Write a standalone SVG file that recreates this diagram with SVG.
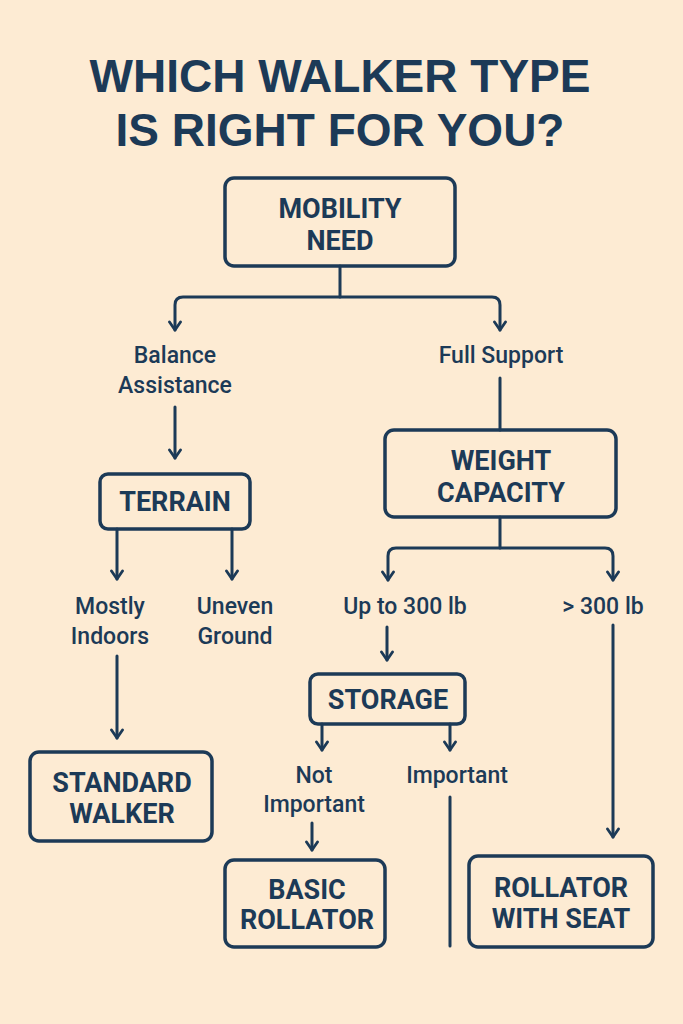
<svg xmlns="http://www.w3.org/2000/svg" width="683" height="1024" viewBox="0 0 683 1024">
<defs>
<style>
.bg{fill:#fdebd3}
.box{fill:none;stroke:#1c3a57;stroke-width:3.5}
.ln{fill:none;stroke:#1c3a57;stroke-width:3;stroke-linecap:round;stroke-linejoin:round}
.t{font-family:"Liberation Sans",Arial,sans-serif;fill:#1c3a57;text-anchor:middle}
.title{font-size:46px;font-weight:bold}
.node{font-family:Roboto,"Liberation Sans",sans-serif;font-size:27px;font-weight:bold}
.lbl{font-family:Roboto,"Liberation Sans",sans-serif;font-size:23px;font-weight:500}
</style>
<marker id="ah" viewBox="0 0 12 14" refX="10" refY="7" markerWidth="12" markerHeight="14" markerUnits="userSpaceOnUse" orient="auto-start-reverse">
<path d="M2,1.5 L10,7 L2,12.5" fill="none" stroke="#1c3a57" stroke-width="2.8" stroke-linecap="round" stroke-linejoin="round"/>
</marker>
</defs>
<rect class="bg" x="0" y="0" width="683" height="1024"/>
<g id="title">
<text class="t title" x="340" y="92">WHICH WALKER TYPE</text>
<text class="t title" x="340" y="146">IS RIGHT FOR YOU?</text>
</g>
<g id="connectors">
<path class="ln" d="M340,266 V297"/>
<path class="ln" d="M175,330 V305 Q175,297 183,297 H492 Q500,297 500,305 V330" marker-start="url(#ah)" marker-end="url(#ah)"/>
<path class="ln" d="M175,407 V458" marker-end="url(#ah)"/>
<path class="ln" d="M500,378 V430"/>
<path class="ln" d="M117,529 V579" marker-end="url(#ah)"/>
<path class="ln" d="M232,529 V579" marker-end="url(#ah)"/>
<path class="ln" d="M117,656 V738" marker-end="url(#ah)"/>
<path class="ln" d="M500,517 V548"/>
<path class="ln" d="M388,580 V556 Q388,548 396,548 H605 Q613,548 613,556 V580" marker-start="url(#ah)" marker-end="url(#ah)"/>
<path class="ln" d="M387,627 V660" marker-end="url(#ah)"/>
<path class="ln" d="M322,724 V750" marker-end="url(#ah)"/>
<path class="ln" d="M450,724 V750" marker-end="url(#ah)"/>
<path class="ln" d="M312,823 V850" marker-end="url(#ah)"/>
<path class="ln" d="M450,797 V946"/>
<path class="ln" d="M613,625 V837" marker-end="url(#ah)"/>
</g>
<g id="mobility-need">
<rect class="box" x="225" y="178" width="230" height="88" rx="9"/>
<text class="t node" x="340" y="218">MOBILITY</text>
<text class="t node" x="340" y="250">NEED</text>
</g>
<g id="balance-assistance">
<text class="t lbl" x="175" y="363">Balance</text>
<text class="t lbl" x="175" y="393">Assistance</text>
</g>
<g id="full-support">
<text class="t lbl" x="501" y="363">Full Support</text>
</g>
<g id="terrain">
<rect class="box" x="100" y="474" width="150" height="55" rx="8"/>
<text class="t node" x="175" y="511">TERRAIN</text>
</g>
<g id="weight-capacity">
<rect class="box" x="385" y="430" width="231" height="87" rx="9"/>
<text class="t node" x="501" y="470">WEIGHT</text>
<text class="t node" x="501" y="502">CAPACITY</text>
</g>
<g id="mostly-indoors">
<text class="t lbl" x="110" y="614">Mostly</text>
<text class="t lbl" x="110" y="644">Indoors</text>
</g>
<g id="uneven-ground">
<text class="t lbl" x="235" y="614">Uneven</text>
<text class="t lbl" x="235" y="644">Ground</text>
</g>
<g id="up-to-300">
<text class="t lbl" x="405" y="614">Up to 300 lb</text>
</g>
<g id="over-300">
<text class="t lbl" x="603" y="614">&gt; 300 lb</text>
</g>
<g id="standard-walker">
<rect class="box" x="30" y="752" width="182" height="89" rx="9"/>
<text class="t node" x="122" y="792">STANDARD</text>
<text class="t node" x="122" y="823">WALKER</text>
</g>
<g id="storage">
<rect class="box" x="310" y="674" width="155" height="50" rx="8"/>
<text class="t node" x="388" y="709">STORAGE</text>
</g>
<g id="not-important">
<text class="t lbl" x="314" y="783">Not</text>
<text class="t lbl" x="314" y="812">Important</text>
</g>
<g id="important">
<text class="t lbl" x="457" y="783">Important</text>
</g>
<g id="basic-rollator">
<rect class="box" x="225" y="860" width="160" height="87" rx="9"/>
<text class="t node" x="307" y="899">BASIC</text>
<text class="t node" x="307" y="929">ROLLATOR</text>
</g>
<g id="rollator-with-seat">
<rect class="box" x="469" y="856" width="184" height="91" rx="9"/>
<text class="t node" x="561" y="897">ROLLATOR</text>
<text class="t node" x="561" y="928">WITH SEAT</text>
</g>
</svg>
